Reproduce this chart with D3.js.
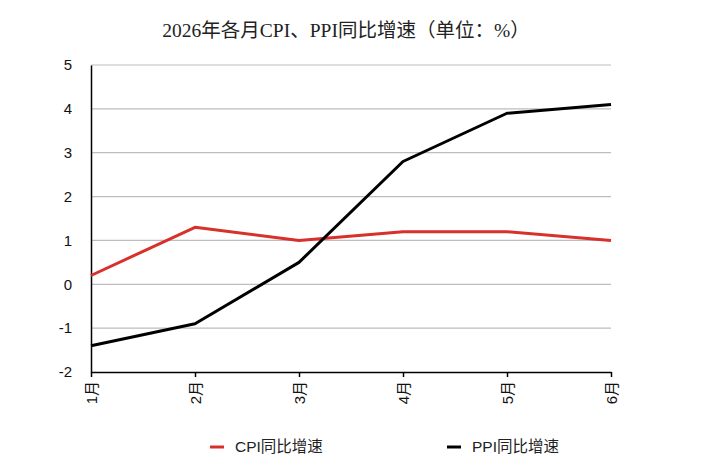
<!DOCTYPE html>
<html lang="zh">
<head>
    <meta charset="UTF-8">
    <title>2026年各月CPI、PPI同比增速</title>
    <script src="https://cdnjs.cloudflare.com/ajax/libs/d3/7.8.5/d3.min.js"></script>
    <style>
        body { margin: 0; background: #fff; }
        svg { display: block; }
        .title { font-family: "Liberation Serif", "Noto Sans CJK SC", serif; font-size: 19.5px; fill: #222; }
        .tick text { font-family: "Liberation Sans", "Noto Sans CJK SC", sans-serif; font-size: 15px; fill: #111; }
        .legend text { font-family: "Liberation Sans", "Noto Sans CJK SC", sans-serif; font-size: 15.5px; fill: #222; }
    </style>
</head>
<body>
<svg width="722" height="475"></svg>
<script>
    const months = ["1月", "2月", "3月", "4月", "5月", "6月"];
    const cpi = [0.2, 1.3, 1.0, 1.2, 1.2, 1.0];
    const ppi = [-1.4, -0.9, 0.5, 2.8, 3.9, 4.1];
    const yTicks = [-2, -1, 0, 1, 2, 3, 4, 5];
    const seriesNames = ["CPI同比增速", "PPI同比增速"];
    const seriesColors = ["#d8302b", "#000000"];

    const svg = d3.select("svg");
    const margin = { left: 91, right: 111, top: 65, bottom: 103 };
    const width = 722 - margin.left - margin.right;
    const height = 475 - margin.top - margin.bottom;

    const x = d3.scalePoint().domain(months).range([0, width]);
    const y = d3.scaleLinear().domain([-2, 5]).range([height, 0]);

    svg.append("text")
        .attr("class", "title")
        .attr("x", 346)
        .attr("y", 37)
        .attr("text-anchor", "middle")
        .text("2026年各月CPI、PPI同比增速（单位：%）");

    const g = svg.append("g").attr("transform", `translate(${margin.left},${margin.top})`);

    // grid lines
    g.append("g")
        .selectAll("line")
        .data(yTicks.filter(d => d !== -2))
        .join("line")
        .attr("x1", 0).attr("x2", width)
        .attr("y1", d => y(d)).attr("y2", d => y(d))
        .attr("stroke", "#bdbdbd")
        .attr("stroke-width", 1.2);

    // y axis
    const yAxis = g.append("g")
        .call(d3.axisLeft(y).tickValues(yTicks).tickSize(0).tickPadding(19).tickFormat(d => String(d)));
    yAxis.select(".domain").attr("stroke", "#000").attr("stroke-width", 1.5);

    // x axis
    const xAxis = g.append("g")
        .attr("transform", `translate(0,${height})`)
        .call(d3.axisBottom(x).tickSize(5).tickSizeOuter(0));
    xAxis.select(".domain").attr("stroke", "#000").attr("stroke-width", 1.5);
    xAxis.selectAll(".tick line").attr("stroke", "#000").attr("stroke-width", 1.5);
    xAxis.selectAll(".tick text")
        .attr("transform", "rotate(-90)")
        .attr("text-anchor", "end")
        .attr("x", -9)
        .attr("y", 0)
        .attr("dy", "0.35em");

    const line = d3.line()
        .x((d, i) => x(months[i]))
        .y(d => y(d));

    [cpi, ppi].forEach((s, i) => {
        g.append("path")
            .datum(s)
            .attr("fill", "none")
            .attr("stroke", seriesColors[i])
            .attr("stroke-width", 3)
            .attr("stroke-linejoin", "round")
            .attr("d", line);
    });

    // legend
    const legendX = [210, 447];
    const legend = svg.append("g").attr("class", "legend");
    seriesNames.forEach((name, i) => {
        legend.append("line")
            .attr("x1", legendX[i]).attr("x2", legendX[i] + 14)
            .attr("y1", 447).attr("y2", 447)
            .attr("stroke", seriesColors[i])
            .attr("stroke-width", 3);
        legend.append("text")
            .attr("x", legendX[i] + 25)
            .attr("y", 452)
            .text(name);
    });
</script>
</body>
</html>
